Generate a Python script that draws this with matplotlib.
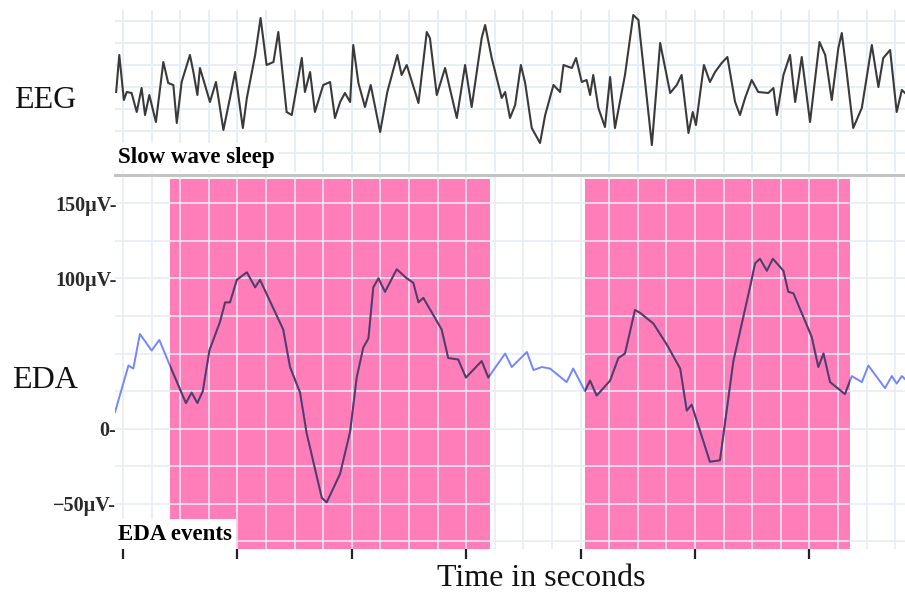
import numpy as np
import matplotlib; matplotlib.use('Agg'); import matplotlib.pyplot as plt

# EEG trace: time (s) and amplitude (arbitrary uV)
eeg_t = [-0.24, -0.13, 0.03, 0.13, 0.30, 0.48, 0.65, 0.77, 0.92, 1.15,
         1.41, 1.58, 1.76, 1.88, 2.05, 2.34, 2.46, 2.60, 2.69, 3.04,
         3.25, 3.51, 3.74, 3.92, 4.19, 4.33, 4.62, 4.81, 5.02, 5.26,
         5.43, 5.72, 5.90, 6.25, 6.36, 6.54, 6.71, 7.00, 7.24, 7.41,
         7.59, 7.76, 7.94, 8.05, 8.23, 8.46, 8.66, 8.99, 9.24, 9.59,
         9.74, 9.92, 10.33, 10.62, 10.73, 10.97, 11.26, 11.67, 11.96, 12.19,
         12.54, 12.66, 12.89, 13.24, 13.36, 13.53, 13.71, 13.91, 14.06, 14.29,
         14.58, 14.76, 15.05, 15.28, 15.40, 15.69, 15.84, 16.04, 16.21, 16.33,
         16.44, 16.62, 16.85, 17.03, 17.20, 17.55, 17.84, 18.02, 18.49, 18.78,
         19.13, 19.36, 19.53, 19.77, 19.92, 20.03, 20.31, 20.52, 20.70, 20.93,
         21.13, 21.40, 21.57, 21.75, 21.98, 22.21, 22.56, 22.74, 22.86, 23.09,
         23.32, 23.50, 23.73, 24.02, 24.35, 24.55, 24.78, 25.01, 25.13, 25.30,
         25.53, 25.83, 26.18, 26.41, 26.58, 26.82, 27.05, 27.23, 27.34]
eeg_v = [-5, 32, -13, -5, -6, -25, -1, -28, -8, -35,
         25, 4, 2, -36, 5, 32, 15, -8, 19, -15,
         5, -43, -11, 15, -41, -11, 32, 69, 22, 25,
         55, -25, -28, 29, -5, 15, -25, 2, 5, -31,
         -15, -6, -15, 42, 4, -20, 2, -45, -5, 32,
         12, 22, -16, 55, 49, -8, 19, -31, 22, -20,
         49, 62, 29, -11, -5, -31, -18, 22, 4, -41,
         -56, -28, 2, -5, 22, 19, 29, 5, 7, -8,
         12, -21, -40, 10, -41, 12, 72, 67, -58, 44,
         -6, 2, 12, -46, -25, -38, 22, 5, 15, 24,
         30, -15, -28, -11, 7, -5, -6, -1, -28, 12,
         32, -15, 30, -35, 45, 32, -13, 39, 54, 15,
         -41, -21, 42, 0, 29, 37, -25, -3, -6]

# EDA trace: time (s) and uV
eda_t = [-0.28, 0.19, 0.36, 0.59, 1.00, 1.27, 1.64, 2.20, 2.40, 2.60,
         2.79, 3.02, 3.39, 3.57, 3.74, 3.98, 4.33, 4.62, 4.79, 5.60,
         5.84, 6.19, 6.42, 6.95, 7.12, 7.59, 7.94, 8.17, 8.40, 8.58,
         8.75, 8.93, 9.16, 9.57, 9.92, 10.15, 10.33, 10.50, 11.14, 11.37,
         11.72, 11.99, 12.54, 12.77, 13.36, 13.59, 14.12, 14.35, 14.64, 14.93,
         15.51, 15.74, 16.15, 16.33, 16.56, 17.03, 17.32, 17.55, 17.90, 18.08,
         18.54, 19.01, 19.48, 19.71, 19.88, 20.52, 20.87, 21.34, 21.92, 22.10,
         22.27, 22.51, 22.72, 23.09, 23.26, 23.44, 24.08, 24.31, 24.49, 24.72,
         25.24, 25.48, 25.83, 26.06, 26.64, 26.88, 27.05, 27.23, 27.34]
eda_v = [11, 42, 40, 63, 52, 59, 42, 17, 24, 17,
         25, 52, 71, 84, 84, 99, 104, 94, 99, 66,
         41, 24, -3, -46, -49, -30, -2, 34, 54, 60,
         94, 100, 91, 106, 100, 97, 84, 87, 66, 47,
         46, 34, 45, 34, 50, 41, 51, 39, 41, 40,
         31, 40, 25, 32, 22, 32, 47, 50, 79, 77,
         70, 56, 40, 12, 16, -22, -21, 45, 94, 110,
         113, 105, 113, 105, 91, 90, 61, 41, 50, 31,
         23, 35, 31, 42, 27, 35, 30, 35, 33]

events = [(1.64, 12.83), (16.15, 25.42)]   # EDA event windows (s)
eda_labeled = [-50, 0, 100, 150]
time_ticks = [0, 4, 8, 12, 16, 20, 24]

SERIF = 'Liberation Serif'
PINK = '#ff7db9'
GRID = '#e6edf6'

W, H = 905, 593
fig = plt.figure(figsize=(W/100, H/100), dpi=100)
def box(l, t, r, b): return [l/W, 1-b/H, (r-l)/W, (b-t)/H]

xlim = (-0.28, 27.34)

# --- EEG panel
ax1 = fig.add_axes(box(115, 10, 905, 172))
ax1.plot(eeg_t, eeg_v, color='#3a3a3a', lw=1.5, zorder=3)
ax1.set_xlim(*xlim); ax1.set_ylim(-85, 77)
ax1.set_xticks(np.arange(0, 28, 1)); ax1.set_yticks(np.arange(-66, 67, 22))
ax1.grid(True, color=GRID, lw=1.3)
ax1.set_axisbelow(True)
ax1.tick_params(length=0, labelleft=False, labelbottom=False)
for s in ax1.spines.values(): s.set_visible(False)

# --- EDA panel
ax2 = fig.add_axes(box(115, 175, 905, 549))
ax2.set_xlim(*xlim); ax2.set_ylim(-80, 168.7)
spans = [ax2.axvspan(a, b, ymax=0.99, color=PINK, lw=0, zorder=0.2) for a, b in events]
ax2.plot(eda_t, eda_v, color='#7486ff', lw=1.4, zorder=3)
for sp in spans:
    ln, = ax2.plot(eda_t, eda_v, color='#5a3a5e', lw=1.4, zorder=4)
    ln.set_clip_path(sp)

yt = np.arange(-75, 151, 25)
def lab(v):
    if v not in eda_labeled: return ''
    if v == 0: return '0-'
    return ('\u2212' if v < 0 else '') + f'{abs(v)}\u00b5V-'
ax2.set_yticks(yt)
ax2.set_yticklabels([lab(v) for v in yt], family=SERIF, fontsize=14.5, weight='bold', color='#2a2a2a')
ax2.set_xticks(time_ticks); ax2.set_xticks(np.arange(0, 28, 1), minor=True)
ax2.set_xticklabels([])
ax2.tick_params(axis='y', length=0, pad=-1)
ax2.tick_params(axis='x', which='major', length=7, width=1.6, color='#222222', direction='out')
ax2.tick_params(axis='x', which='minor', length=0)
ax2.grid(True, which='both', color=GRID, lw=1.4, alpha=0.8)
ax2.set_axisbelow(True)
for k, s in ax2.spines.items():
    s.set_visible(k == 'top')
ax2.spines['top'].set_color('#c4c4c4'); ax2.spines['top'].set_linewidth(2.2)

# --- labels
fig.text(14/W, 1-100/H, 'EEG', family=SERIF, fontsize=23, va='center', ha='left', color='#111111')
fig.text(12/W, 1-380/H, 'EDA', family=SERIF, fontsize=23, va='center', ha='left', color='#111111')
fig.text(118/W, 1-157/H, 'Slow wave sleep', family=SERIF, weight='bold', fontsize=16.5,
         va='center', ha='left', bbox=dict(fc='white', ec='none', pad=2.5))
fig.text(118/W, 1-534/H, 'EDA events', family=SERIF, weight='bold', fontsize=16.5,
         va='center', ha='left', bbox=dict(fc='white', ec='none', pad=3))
fig.text(541/W, 1-578/H, 'Time in seconds', family=SERIF, fontsize=23, va='center', ha='center', color='#111111')

fig.savefig('out.png', dpi=100)
